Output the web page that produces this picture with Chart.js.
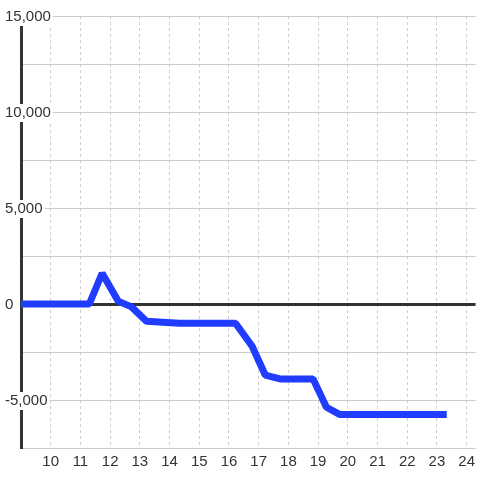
<!DOCTYPE html>
<html>
<head>
<meta charset="utf-8">
<script src="https://cdn.jsdelivr.net/npm/chart.js@4"></script>
<style>
  body { margin: 0; background: #fff; }
  #wrap { width: 480px; height: 480px; }
</style>
</head>
<body>
<div id="wrap"><canvas id="chart" width="480" height="480"></canvas></div>
<script>
/* data */
const xValues = [9, 11.3, 11.73, 12.27, 12.72, 13.22, 14.33, 16.22, 16.78, 17.22, 17.72, 18.83, 19.28, 19.72, 23.33];
const yValues = [0, 0, 1600, 150, -150, -900, -1000, -1000, -2200, -3700, -3900, -3900, -5380, -5750, -5750];

const xMin = 9, xMax = 24.3;
const yMin = -7500, yMax = 15000, yStep = 2500, yLabelStep = 5000;

const font = { family: "'Liberation Sans', Arial, sans-serif", size: 15 };
const textColor = '#333';

// Build points for the line
const points = xValues.map((x, i) => ({ x: x, y: yValues[i] }));

new Chart(document.getElementById('chart'), {
    type: 'line',
    data: {
        datasets: [{
            data: points,
            borderColor: '#1f3cff',
            borderWidth: 7,
            borderJoinStyle: 'bevel',
            pointRadius: 0,
            tension: 0,
            fill: false
        }]
    },
    options: {
        responsive: false,
        animation: false,
        layout: { padding: { top: 16, left: 0, right: 0, bottom: 0 } },
        plugins: { legend: { display: false }, tooltip: { enabled: false } },
        scales: {
            x: {
                type: 'linear',
                min: xMin,
                max: xMax,
                afterFit: s => { s.height = 32; },
                afterBuildTicks: s => { s.ticks = s.ticks.filter(t => t.value > xMin); },
                ticks: {
                    stepSize: 1,
                    includeBounds: false,
                    padding: 5,
                    color: textColor,
                    font: font,
                    maxRotation: 0,
                    callback: v => String(v)
                },
                grid: { color: '#ccc', lineWidth: 1, drawTicks: false },
                border: { display: false, dash: [3, 3] }
            },
            y: {
                min: yMin,
                max: yMax,
                afterFit: s => { s.width = 21; },
                ticks: {
                    stepSize: yStep,
                    // mirrored labels are not clipped to the axis box; pull them back left
                    mirror: true,
                    crossAlign: 'near',
                    padding: -16,
                    labelOffset: 1,
                    color: textColor,
                    font: font,
                    showLabelBackdrop: true,
                    backdropColor: '#fff',
                    backdropPadding: { left: 2, right: 2, top: 0, bottom: 0 },
                    callback: v => (v % yLabelStep === 0 ? v.toLocaleString('en-US') : '')
                },
                grid: {
                    drawTicks: false,
                    color: c => (c.tick && c.tick.value === 0 ? '#333' : '#ccc'),
                    lineWidth: c => (c.tick && c.tick.value === 0 ? 3 : 1)
                },
                border: { display: true, color: '#333', width: 3 }
            }
        }
    }
});
</script>
</body>
</html>
